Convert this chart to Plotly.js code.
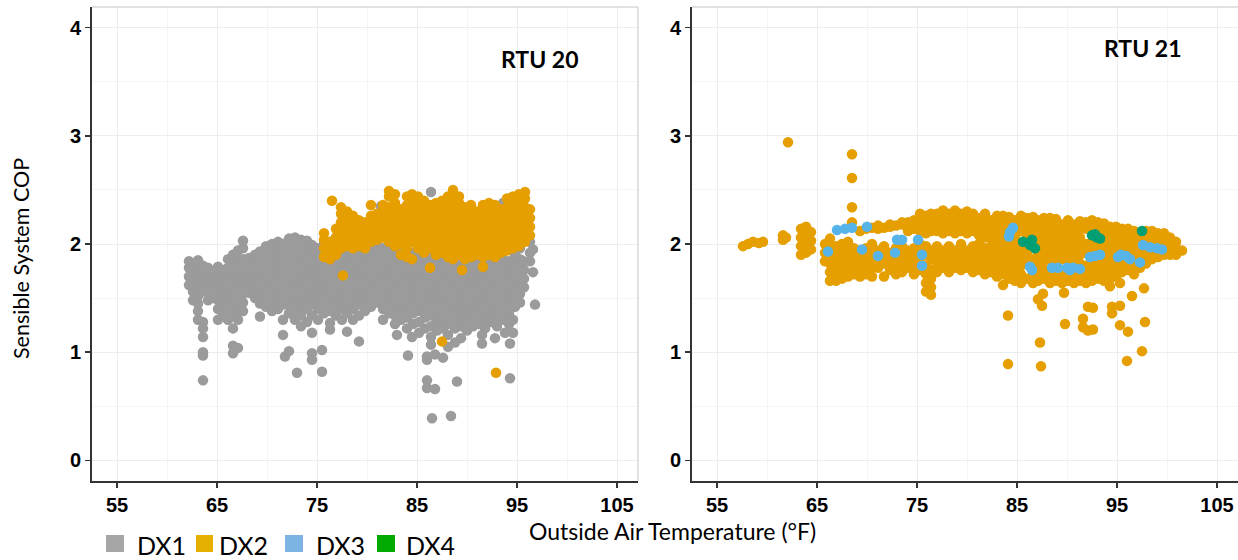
<!DOCTYPE html>
<html>
<head>
<meta charset="utf-8">
<script src="https://cdn.plot.ly/plotly-3.0.1.min.js"></script>
<style>html,body{margin:0;padding:0;background:#fff;}#chart{width:1238px;height:560px;}</style>
</head>
<body>
<div id="chart"></div>
<script>
// ---------------- DATA ----------------
// Each entry: [outside air temperature (°F), [sensible system COP values at that temperature]]
const seriesNames = ["DX1", "DX2", "DX3", "DX4"];
const panelTitles = ["RTU 20", "RTU 21"];
const xTickVals = [55, 65, 75, 85, 95, 105];
const yTickVals = [0, 1, 2, 3, 4];

const rtu20_dx1 = [
 [62.2,[1.62,1.70,1.78,1.84]],
 [62.6,[1.48,1.56,1.66,1.74,1.82]],
 [63.1,[1.30,1.38,1.45,1.52,1.60,1.68,1.76,1.85]],
 [63.6,[0.74,0.97,1.00,1.14,1.22,1.28,1.56,1.64,1.72,1.80]],
 [64.1,[1.48,1.56,1.63,1.71,1.78]],
 [64.6,[1.50,1.58,1.66,1.74]],
 [65.1,[1.30,1.40,1.48,1.56,1.64,1.72,1.79]],
 [65.6,[1.36,1.44,1.52,1.60,1.68,1.76]],
 [66.1,[1.30,1.38,1.46,1.54,1.62,1.70,1.78,1.86]],
 [66.6,[0.99,1.06,1.22,1.34,1.42,1.50,1.58,1.66,1.74,1.82,1.90]],
 [67.1,[1.04,1.30,1.38,1.46,1.54,1.62,1.70,1.78,1.86,1.94]],
 [67.6,[1.38,1.46,1.54,1.62,1.70,1.78,1.86,1.96,2.03]],
 [68.2,[1.55,1.63,1.71,1.79,1.87]],
 [68.8,[1.50,1.58,1.66,1.74,1.82,1.90]],
 [69.3,[1.33,1.45,1.53,1.61,1.69,1.77,1.85,1.93]],
 [69.9,[1.42,1.50,1.58,1.66,1.74,1.82,1.90,1.98]],
 [70.5,[1.38,1.46,1.54,1.62,1.70,1.78,1.86,1.94,2.00]],
 [71.1,[1.40,1.48,1.56,1.64,1.72,1.80,1.88,1.96,2.02]],
 [71.6,[1.16,1.30,1.44,1.52,1.60,1.68,1.76,1.84,1.92,2.00]],
 [71.8,[0.96]],
 [72.2,[1.01,1.36,1.44,1.52,1.60,1.68,1.76,1.84,1.92,2.00,2.05]],
 [72.8,[1.30,1.38,1.46,1.54,1.62,1.70,1.78,1.86,1.94,2.02,2.06]],
 [73.0,[0.81]],
 [73.4,[1.24,1.34,1.42,1.50,1.58,1.66,1.74,1.82,1.90,1.98,2.04]],
 [74.0,[1.28,1.40,1.48,1.56,1.64,1.72,1.80,1.88,1.96,2.03]],
 [74.5,[0.93,0.99,1.18,1.34,1.44,1.52,1.60,1.68,1.76,1.84,1.92,1.99]],
 [75.1,[1.30,1.40,1.48,1.56,1.64,1.72,1.80,1.88,1.96]],
 [75.5,[0.82,1.02]],
 [75.7,[1.36,1.44,1.52,1.60,1.68,1.76,1.84,1.92,2.00]],
 [76.3,[1.21,1.27,1.38,1.46,1.54,1.62,1.70,1.78,1.86,1.94,2.02]],
 [76.9,[1.34,1.42,1.50,1.58,1.66,1.74,1.82,1.90,1.98,2.06]],
 [77.5,[1.30,1.40,1.48,1.56,1.64,1.72,1.80,1.88,1.96,2.04,2.10]],
 [78.0,[1.19,1.36,1.44,1.52,1.60,1.68,1.76,1.84,1.92,2.00,2.08]],
 [78.6,[1.30,1.40,1.48,1.56,1.64,1.72,1.80,1.88,1.96]],
 [79.2,[1.10,1.34,1.44,1.52,1.60,1.68,1.76,1.84,1.92,2.10]],
 [79.8,[1.38,1.46,1.54,1.62,1.70,1.78,1.86,1.94]],
 [80.4,[1.42,1.50,1.58,1.66,1.74,1.82,1.90,1.98]],
 [81.0,[1.46,1.54,1.62,1.70,1.78,1.86,1.94,2.02]],
 [81.4,[2.35]],
 [81.6,[1.30,1.40,1.48,1.56,1.64,1.72,1.80,1.88,1.96]],
 [82.2,[1.36,1.44,1.52,1.60,1.68,1.76,1.84,1.92,2.00]],
 [82.8,[1.26,1.34,1.42,1.50,1.58,1.66,1.74,1.82,1.90,1.98]],
 [83.0,[1.16]],
 [83.4,[1.30,1.38,1.46,1.54,1.62,1.70,1.78,1.86,1.94]],
 [84.0,[1.22,1.32,1.40,1.48,1.56,1.64,1.72,1.80,1.88,1.96]],
 [84.1,[0.97]],
 [84.5,[1.14]],
 [84.6,[1.26,1.36,1.44,1.52,1.60,1.68,1.76,1.84,1.92]],
 [85.2,[1.18,1.28,1.38,1.46,1.54,1.62,1.70,1.78,1.86,1.94]],
 [85.8,[1.22,1.32,1.40,1.48,1.56,1.64,1.72,1.80,1.88,1.96]],
 [86.0,[0.67,0.74,0.93,0.96]],
 [86.4,[1.07,1.14,1.24,1.34,1.42,1.50,1.58,1.66,1.74,1.82,1.90,2.48]],
 [86.5,[0.39]],
 [86.8,[0.66,0.98]],
 [87.0,[1.20,1.28,1.36,1.44,1.52,1.60,1.68,1.76,1.84,1.92]],
 [87.6,[0.95,1.22,1.30,1.38,1.46,1.54,1.62,1.70,1.78,1.86]],
 [88.1,[1.05,1.16]],
 [88.2,[1.26,1.34,1.42,1.50,1.58,1.66,1.74,1.82,1.90]],
 [88.4,[0.41]],
 [88.8,[1.09,1.22,1.30,1.38,1.46,1.54,1.62,1.70,1.78,1.86]],
 [89.0,[0.73]],
 [89.4,[1.13,1.24,1.32,1.40,1.48,1.56,1.64,1.72,1.80,1.88]],
 [90.0,[1.20,1.28,1.36,1.44,1.52,1.60,1.68,1.76,1.84]],
 [90.6,[1.24,1.32,1.40,1.48,1.56,1.64,1.72,1.80,1.88]],
 [91.2,[1.26,1.34,1.42,1.50,1.58,1.66,1.74,1.82]],
 [91.5,[1.08,1.16]],
 [91.8,[1.22,1.30,1.38,1.46,1.54,1.62,1.70,1.78,1.86]],
 [92.4,[1.28,1.36,1.44,1.52,1.60,1.68,1.76,1.84]],
 [92.8,[1.13]],
 [93.0,[1.24,1.32,1.40,1.48,1.56,1.64,1.72,1.80,1.88]],
 [93.6,[1.30,1.38,1.46,1.54,1.62,1.70,1.78,1.86,2.38]],
 [93.8,[1.18]],
 [94.2,[1.26,1.36,1.44,1.52,1.60,1.68,1.76,1.84]],
 [94.3,[0.76,1.08]],
 [94.6,[1.18,1.30]],
 [94.8,[1.42,1.50,1.58,1.66,1.74,1.82,1.90]],
 [95.3,[1.46,1.54,1.62,1.70,1.78,1.86,1.96]],
 [95.7,[1.60,1.68,1.76,1.84]],
 [96.3,[1.84,1.92,2.02]],
 [96.6,[1.74,1.95]],
 [96.8,[1.44]]
];

const rtu20_dx2 = [
 [75.7,[1.88,1.96,2.04,2.10]],
 [76.3,[1.86,1.94,2.02]],
 [76.5,[2.40]],
 [76.9,[1.90,1.98,2.06,2.14]],
 [77.4,[1.96,2.04,2.12,2.20,2.28,2.34]],
 [77.6,[1.71]],
 [78.0,[1.98,2.06,2.14,2.22,2.30]],
 [78.6,[1.96,2.04,2.12,2.20,2.26]],
 [79.2,[1.98,2.06,2.14,2.22]],
 [79.8,[1.96,2.04,2.12,2.20]],
 [80.4,[2.02,2.10,2.18,2.26,2.36]],
 [81.0,[2.04,2.12,2.20,2.28]],
 [81.6,[2.06,2.14,2.22,2.30,2.36]],
 [82.2,[2.02,2.10,2.18,2.26,2.34,2.44,2.49]],
 [82.8,[1.98,2.06,2.14,2.22,2.30,2.38,2.46]],
 [83.4,[1.90,2.00,2.08,2.16,2.24,2.32]],
 [84.0,[1.88,1.96,2.04,2.12,2.20,2.28,2.36,2.44]],
 [84.5,[1.86,2.02,2.10,2.18,2.26,2.34,2.42,2.46]],
 [85.1,[1.96,2.04,2.12,2.20,2.28,2.36,2.44]],
 [85.7,[1.92,2.00,2.08,2.16,2.24,2.32,2.40]],
 [86.3,[1.78,1.96,2.04,2.12,2.20,2.28,2.36]],
 [86.9,[1.90,1.98,2.06,2.14,2.22,2.30,2.38]],
 [87.5,[1.10,1.92,2.00,2.08,2.16,2.24,2.32,2.40]],
 [88.1,[1.88,1.96,2.04,2.12,2.20,2.28,2.36,2.44]],
 [88.6,[1.86,1.94,2.02,2.10,2.18,2.26,2.34,2.42,2.50]],
 [89.2,[1.90,1.98,2.06,2.14,2.22,2.30,2.38,2.44]],
 [89.5,[1.76]],
 [89.8,[1.86,1.94,2.02,2.10,2.18,2.26,2.34]],
 [90.4,[1.88,1.96,2.04,2.12,2.20,2.28,2.36]],
 [91.0,[1.90,1.98,2.06,2.14,2.22,2.30]],
 [91.6,[1.79,1.88,1.96,2.04,2.12,2.20,2.28,2.36]],
 [92.2,[1.90,1.98,2.06,2.14,2.22,2.30,2.38]],
 [92.8,[1.88,1.96,2.04,2.12,2.20,2.28,2.36]],
 [92.9,[0.81]],
 [93.4,[1.92,2.00,2.08,2.16,2.24,2.32]],
 [94.0,[1.94,2.02,2.10,2.18,2.26,2.34,2.42]],
 [94.6,[1.96,2.04,2.12,2.20,2.28,2.36,2.44]],
 [95.2,[1.98,2.06,2.14,2.22,2.30,2.38,2.46]],
 [95.8,[2.02,2.10,2.18,2.26,2.34,2.42,2.48]],
 [96.3,[2.08,2.16,2.24,2.32]]
];

const rtu21_dx2 = [
 [57.6,[1.98]],[58.1,[2.00]],[58.6,[2.02]],[59.2,[2.01]],[59.6,[2.02]],
 [61.6,[2.04,2.08]],[61.9,[2.06]],
 [62.1,[2.94]],
 [63.4,[1.90,1.98,2.06,2.14]],
 [63.9,[1.92,2.00,2.08,2.16]],
 [64.4,[1.95,2.03,2.11]],
 [65.8,[1.84,1.92,2.00]],
 [66.3,[1.66,1.74,1.82,1.90,1.98,2.05]],
 [66.9,[1.66,1.74,1.82,1.90,1.98]],
 [67.5,[1.68,1.76,1.84,1.92,2.00]],
 [68.1,[1.70,1.78,1.86,1.94,2.02]],
 [68.5,[2.20,2.34,2.61,2.83]],
 [68.7,[1.72,1.80,1.88,1.96]],
 [69.3,[1.70,1.78,1.86,1.94,2.12]],
 [69.9,[1.72,1.80,1.88,1.96,2.14]],
 [70.5,[1.70,1.78,1.86,1.94,2.00,2.15]],
 [71.1,[1.78,1.86,1.94,2.14,2.17]],
 [71.7,[1.70,1.82,1.90,1.98,2.15]],
 [72.3,[1.76,1.84,1.92,2.16,2.18]],
 [72.9,[1.72,1.80,1.88,1.96,2.17]],
 [73.5,[1.74,1.82,1.90,1.98,2.18,2.20]],
 [74.1,[1.78,1.86,1.94,2.12,2.20]],
 [74.7,[1.72,1.80,1.88,1.96,2.14,2.22]],
 [75.3,[1.76,1.84,1.92,2.00,2.12,2.20,2.28]],
 [75.9,[1.56,1.64,1.72,1.80,1.90,1.98,2.10,2.18,2.26]],
 [76.4,[1.53,1.60,1.68,1.76,1.86,1.94,2.12,2.20,2.28]],
 [77.0,[1.74,1.82,1.90,1.98,2.12,2.20,2.28]],
 [77.6,[1.78,1.86,1.94,2.10,2.18,2.26,2.31]],
 [78.2,[1.74,1.82,1.90,1.98,2.12,2.20,2.28]],
 [78.8,[1.78,1.86,1.94,2.10,2.18,2.26,2.31]],
 [79.4,[1.76,1.84,1.92,2.00,2.12,2.20,2.28]],
 [80.0,[1.78,1.86,1.94,2.10,2.18,2.26,2.30]],
 [80.6,[1.74,1.82,1.90,1.98,2.12,2.20,2.28]],
 [81.2,[1.76,1.84,1.92,2.00,2.08,2.16,2.24]],
 [81.8,[1.72,1.80,1.88,1.96,2.06,2.14,2.22,2.28]],
 [82.4,[1.74,1.82,1.90,1.98,2.06,2.14,2.22]],
 [83.0,[1.70,1.78,1.86,1.94,2.02,2.10,2.18,2.26]],
 [83.6,[1.62,1.72,1.80,1.88,1.96,2.04,2.12,2.20,2.26]],
 [84.1,[0.89,1.34]],
 [84.2,[1.68,1.76,1.84,1.92,2.00,2.18,2.25]],
 [84.8,[1.66,1.74,1.82,1.90,1.98,2.06,2.22]],
 [85.4,[1.64,1.72,1.80,1.88,1.96,2.12,2.20,2.26]],
 [86.0,[1.68,1.84,1.92,2.08,2.16,2.24]],
 [86.6,[1.64,1.72,1.86,2.12,2.20,2.25]],
 [87.1,[1.49,1.66,1.74,1.82,1.90,1.98,2.06,2.14,2.22]],
 [87.3,[1.09]],[87.4,[0.87]],[87.5,[1.43]],[87.6,[1.54]],
 [87.7,[1.68,1.76,1.84,1.92,2.00,2.08,2.16,2.24]],
 [88.3,[1.64,1.72,1.86,1.94,2.02,2.10,2.18,2.24]],
 [88.9,[1.66,1.74,1.84,1.92,2.00,2.08,2.16,2.23]],
 [89.5,[1.64,1.72,1.86,1.94,2.02,2.10,2.18]],
 [89.7,[1.55]],[89.8,[1.26]],
 [90.1,[1.66,1.74,1.84,1.92,2.00,2.08,2.16,2.22]],
 [90.7,[1.64,1.72,1.86,1.94,2.02,2.10,2.18]],
 [91.3,[1.66,1.74,1.82,1.90,1.98,2.06,2.14,2.21]],
 [91.6,[1.23,1.31]],
 [91.9,[1.64,1.72,1.80,1.92,2.00,2.14,2.20]],
 [92.1,[1.20,1.42]],
 [92.5,[1.66,1.74,1.82,1.96,2.02,2.16,2.22]],
 [92.6,[1.21,1.41]],
 [93.1,[1.68,1.76,1.84,1.94,2.00,2.12,2.20]],
 [93.7,[1.66,1.74,1.82,1.90,1.98,2.06,2.14,2.19]],
 [94.3,[1.61,1.68,1.76,1.84,1.92,2.00,2.08,2.16]],
 [94.5,[1.36,1.42]],
 [94.9,[1.70,1.78,1.86,1.94,2.02,2.10,2.16]],
 [95.3,[1.25,1.43,1.64]],
 [95.5,[1.74,1.82,1.98,2.06,2.14]],
 [96.0,[0.92]],
 [96.1,[1.19,1.76,1.84,1.94,2.02,2.10,2.14]],
 [96.5,[1.52]],
 [96.7,[1.72,1.80,1.88,1.96,2.04,2.12]],
 [97.3,[1.78,1.86,1.94,2.02,2.10]],
 [97.5,[1.01]],[97.7,[1.59]],[97.8,[1.28]],
 [97.9,[1.82,1.90,2.00,2.08,2.12]],
 [98.5,[1.86,1.94,2.02,2.08,2.12]],
 [99.1,[1.88,1.96,2.04,2.10]],
 [99.7,[1.90,1.98,2.06,2.10]],
 [100.3,[1.90,1.96,2.02,2.06]],
 [100.9,[1.90,1.96,2.02]],
 [101.5,[1.94]]
];

const rtu21_dx3 = [
 [66.1,[1.93]],[67.0,[2.13]],[67.8,[2.14]],[68.5,[2.15]],[70.0,[2.16]],
 [69.5,[1.95]],[71.1,[1.89]],[72.8,[1.92]],[73.0,[2.04]],[73.5,[2.04]],
 [75.1,[2.04]],[75.5,[1.80,1.90]],
 [84.2,[2.07]],[84.3,[2.11]],[84.6,[2.15]],
 [86.3,[1.79]],[86.5,[1.76]],
 [88.5,[1.78]],[89.1,[1.78]],[90.0,[1.78]],[90.3,[1.76]],[90.6,[1.78]],[91.3,[1.77]],
 [92.3,[1.88]],[92.8,[1.89]],[93.3,[1.90]],
 [95.1,[1.88]],[95.4,[1.90]],[95.9,[1.89]],[96.3,[1.86]],[97.3,[1.83]],
 [97.6,[1.99]],[98.3,[1.97]],[99.0,[1.96]],[99.5,[1.95]]
];

const rtu21_dx4 = [
 [85.6,[2.02]],[86.3,[1.99]],[86.5,[2.04]],[86.8,[1.96]],
 [92.5,[2.08]],[92.8,[2.09]],[93.0,[2.06]],[93.3,[2.05]],
 [97.5,[2.12]]
];

// ---------------- STYLE ----------------
const pointColors = {DX1: "#9b9b9b", DX2: "#E69F00", DX3: "#56B4E9", DX4: "#009E73"};
const legendColors = {DX1: "#a6a6a6", DX2: "#E6B000", DX3: "#7DB4E3", DX4: "#00AA00"};

function flatten(cols) {
  const xs = [], ys = [];
  cols.forEach(c => c[1].forEach(v => { xs.push(c[0]); ys.push(v); }));
  return {x: xs, y: ys};
}
function trace(cols, name, xa, ya) {
  const d = flatten(cols);
  return {type: "scatter", mode: "markers", x: d.x, y: d.y, name: name,
          xaxis: xa, yaxis: ya, showlegend: false, hoverinfo: "x+y+name",
          marker: {size: 10.5, color: pointColors[name], line: {width: 0}}};
}

const data = [
  trace(rtu20_dx1, "DX1", "x", "y"),
  trace(rtu20_dx2, "DX2", "x", "y"),
  trace(rtu21_dx2, "DX2", "x2", "y2"),
  trace(rtu21_dx3, "DX3", "x2", "y2"),
  trace(rtu21_dx4, "DX4", "x2", "y2")
];

const W = 1238, H = 560;
const px = v => v / W;
const py = v => 1 - v / H;

const tickFont = {family: "'Liberation Sans', Arial, sans-serif", size: 20, color: "#000"};
function xAxis(domain, anchor) {
  return {domain: domain, anchor: anchor, range: [52.5, 107.1],
          tickvals: xTickVals, ticktext: xTickVals.map(v => "<b>" + v + "</b>"),
          ticks: "outside", ticklen: 5, tickwidth: 1.5, tickcolor: "#333",
          showline: true, linecolor: "#333", linewidth: 2,
          showgrid: true, gridcolor: "#ededed", gridwidth: 1,
          minor: {dtick: 5, tick0: 55, showgrid: true, gridcolor: "#f5f5f5", ticks: ""},
          zeroline: false, tickfont: tickFont, fixedrange: true};
}
function yAxis(anchor) {
  return {domain: [py(481), py(7)], anchor: anchor, range: [-0.19, 4.19],
          tickvals: yTickVals, ticktext: yTickVals.map(v => "<b>" + v + "</b>"),
          ticks: "outside", ticklen: 5, tickwidth: 1.5, tickcolor: "#333",
          showline: true, linecolor: "#333", linewidth: 2,
          showgrid: true, gridcolor: "#ededed", gridwidth: 1,
          minor: {dtick: 0.5, tick0: 0, showgrid: true, gridcolor: "#f5f5f5", ticks: ""},
          zeroline: false, tickfont: tickFont, fixedrange: true};
}

const textFont = "Lato, 'Liberation Sans', sans-serif";
const annotations = [
  {text: "<b>" + panelTitles[0] + "</b>", x: px(540), y: py(59), xref: "paper", yref: "paper",
   showarrow: false, xanchor: "center", yanchor: "middle", font: {family: textFont, size: 23, color: "#000"}},
  {text: "<b>" + panelTitles[1] + "</b>", x: px(1143), y: py(48), xref: "paper", yref: "paper",
   showarrow: false, xanchor: "center", yanchor: "middle", font: {family: textFont, size: 23, color: "#000"}},
  {text: "Outside Air Temperature (°F)", x: px(672), y: py(531), xref: "paper", yref: "paper",
   showarrow: false, xanchor: "center", yanchor: "middle", font: {family: textFont, size: 23, color: "#000"}},
  {text: "Sensible System COP", x: px(21), y: py(259), xref: "paper", yref: "paper", textangle: -90,
   showarrow: false, xanchor: "center", yanchor: "middle", font: {family: textFont, size: 21.5, color: "#000"}}
];

const legendSquares = [[106, 124], [196, 213], [285, 303], [377, 395]];
const legendTextX = [135, 217, 314, 404];
const shapes = [
  // light top / right borders of panels
  {type: "line", xref: "paper", yref: "paper", x0: px(92), x1: px(638), y0: py(7), y1: py(7), line: {color: "#c4c4c4", width: 1}},
  {type: "line", xref: "paper", yref: "paper", x0: px(638), x1: px(638), y0: py(7), y1: py(481), line: {color: "#c4c4c4", width: 1}},
  {type: "line", xref: "paper", yref: "paper", x0: px(692), x1: px(1238), y0: py(7), y1: py(7), line: {color: "#c4c4c4", width: 1}}
];
seriesNames.forEach((n, i) => {
  shapes.push({type: "rect", xref: "paper", yref: "paper",
    x0: px(legendSquares[i][0]), x1: px(legendSquares[i][1]), y0: py(552), y1: py(535),
    fillcolor: legendColors[n], line: {width: 0}});
  annotations.push({text: n, x: px(legendTextX[i]), y: py(545), xref: "paper", yref: "paper",
    showarrow: false, xanchor: "left", yanchor: "middle", font: {family: textFont, size: 25, color: "#000"}});
});

const layout = {
  width: W, height: H,
  margin: {l: 0, r: 0, t: 0, b: 0},
  paper_bgcolor: "#fff", plot_bgcolor: "#fff",
  showlegend: false,
  xaxis: xAxis([px(92), px(638)], "y"),
  yaxis: yAxis("x"),
  xaxis2: xAxis([px(692), 1], "y2"),
  yaxis2: yAxis("x2"),
  annotations: annotations,
  shapes: shapes
};

Plotly.newPlot("chart", data, layout, {displayModeBar: false, staticPlot: true});
</script>
</body>
</html>
